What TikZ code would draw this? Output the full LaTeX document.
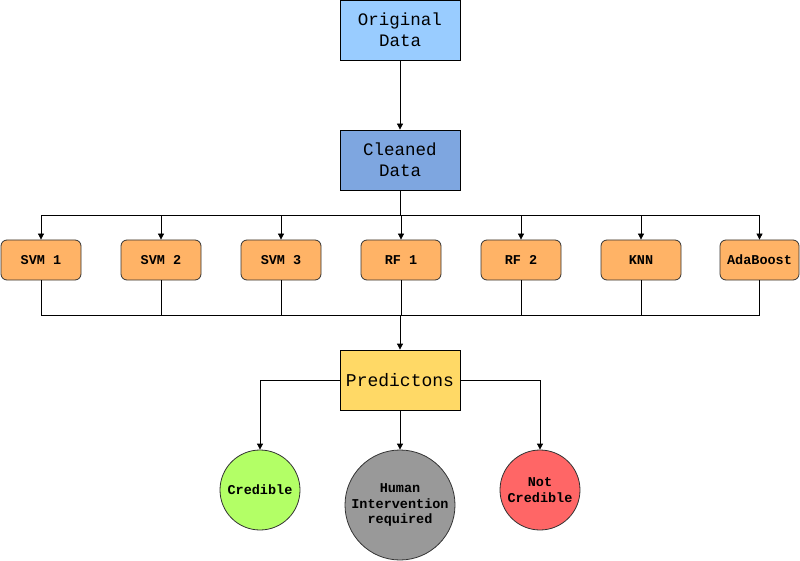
\documentclass[tikz,border=0pt]{standalone}
\usepackage{fontspec}
\setmonofont{Liberation Mono}
\usetikzlibrary{arrows.meta}
\definecolor{origc}{HTML}{99CCFF}
\definecolor{cleanc}{HTML}{7EA6E0}
\definecolor{modelc}{HTML}{FFB366}
\definecolor{predc}{HTML}{FFD966}
\definecolor{credc}{HTML}{B3FF66}
\definecolor{humanc}{HTML}{999999}
\definecolor{notc}{HTML}{FF6666}
\tikzset{
  bigbox/.style={draw=black, line width=0.8pt, minimum width=120pt, minimum height=60pt, inner sep=0pt, align=center, font=\ttfamily\fontsize{17.5}{21}\selectfont},
  modelbox/.style={draw=black!80, line width=0.8pt, rounded corners=6pt, fill=modelc, minimum width=80pt, minimum height=40pt, inner sep=0pt, font=\ttfamily\bfseries\fontsize{13.5}{15}\selectfont},
  outc/.style={circle, draw=black!80, line width=0.8pt, inner sep=0pt, align=center, font=\ttfamily\bfseries\fontsize{13.5}{15.5}\selectfont},
  conn/.style={line width=0.8pt, -{Triangle[length=6pt,width=6pt]}},
  plain/.style={line width=0.8pt}
}
\begin{document}
\begin{tikzpicture}[x=1pt,y=-1pt]
\useasboundingbox (0,0) rectangle (800,561);
\node[bigbox, fill=origc] (orig) at (400,30) {Original\\Data};
\node[bigbox, fill=cleanc] (clean) at (400,160) {Cleaned\\Data};
\node[modelbox] (svm1) at (41,260) {SVM 1};
\node[modelbox] (svm2) at (161,260) {SVM 2};
\node[modelbox] (svm3) at (281,260) {SVM 3};
\node[modelbox] (rf1) at (401,260) {RF 1};
\node[modelbox] (rf2) at (521,260) {RF 2};
\node[modelbox] (knn) at (641,260) {KNN};
\node[modelbox, minimum width=79pt] (ada) at (759.5,260) {AdaBoost};
\node[bigbox, fill=predc, font=\ttfamily\fontsize{18}{21}\selectfont] (pred) at (400,380) {Predictons};
\node[outc, fill=credc, minimum size=80pt] (cred) at (260,490) {Credible};
\node[outc, fill=humanc, minimum size=110pt] (human) at (400,505) {Human\\Intervention\\required};
\node[outc, fill=notc, minimum size=80pt] (notcred) at (540,490) {Not\\Credible};
\coordinate (topbus) at (400,215);
\coordinate (botbus) at (400,315);
\draw[conn] (orig) -- (clean);
\draw[plain] (clean.south) -- (topbus);
\foreach \m in {svm1,svm2,svm3,rf1,rf2,knn,ada}{
  \draw[conn] (topbus) -| (\m.north);
  \draw[plain] (\m.south) |- (botbus);
}
\draw[conn] (botbus) -- (pred.north);
\draw[conn] (pred.west) -| (cred.north);
\draw[conn] (pred.south) -- (human.north);
\draw[conn] (pred.east) -| (notcred.north);
\end{tikzpicture}
\end{document}
